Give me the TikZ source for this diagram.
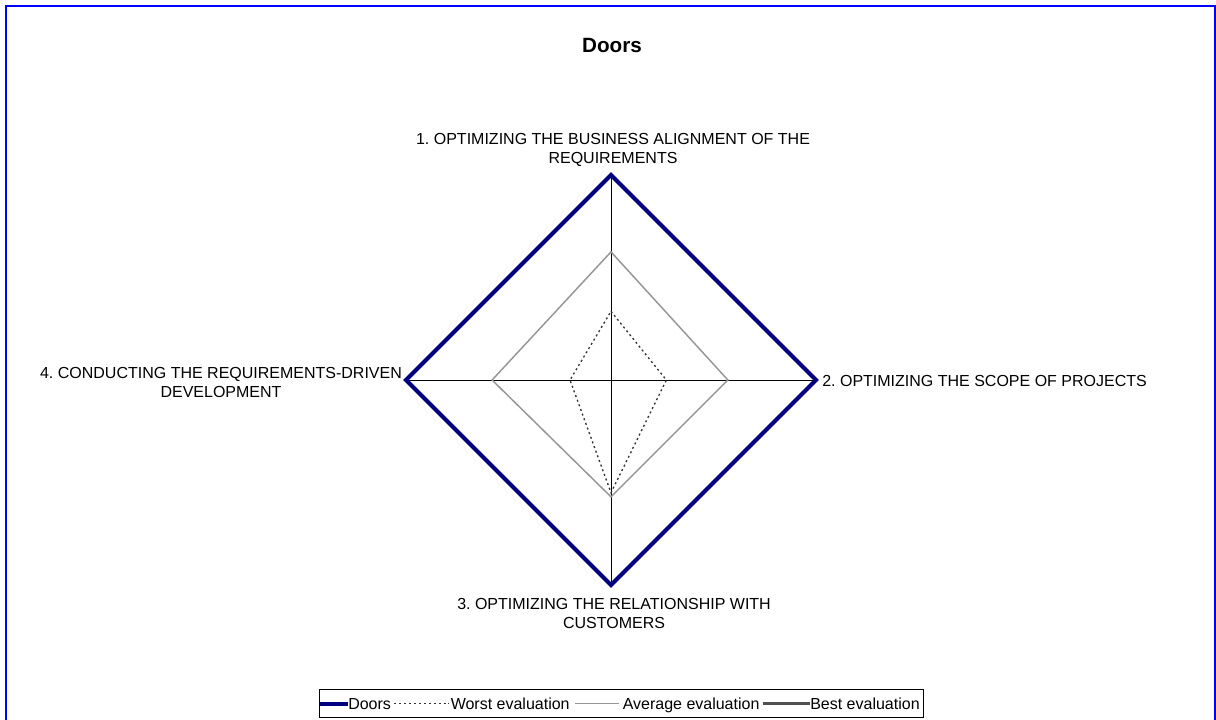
\documentclass[tikz,border=0pt]{standalone}
\usepackage{fontspec}
\setmainfont{Liberation Sans}
\usetikzlibrary{positioning,calc}
\definecolor{doorsblue}{RGB}{0,0,128}
\definecolor{frameblue}{RGB}{0,0,255}
\definecolor{avggray}{RGB}{150,150,150}
\definecolor{worstgray}{RGB}{50,50,50}
\definecolor{bestgray}{RGB}{80,80,80}
\frenchspacing
\begin{document}
\begin{tikzpicture}[x=.75pt, y=-.75pt, line join=miter,
	lbl/.style={font=\fontsize{12}{14.25}\selectfont, align=center, inner sep=0pt},
	legtext/.style={font=\fontsize{12}{14}\selectfont, inner sep=0pt, anchor=west, text height=8.6pt, text depth=0pt},
	axisline/.style={draw=black, line width=.75pt},
	doorsline/.style={draw=doorsblue, line width=3pt},
	worstline/.style={draw=worstgray, line width=1pt, dash pattern=on 1.5pt off 2.2pt},
	avgline/.style={draw=avggray, line width=1.1pt},
	bestline/.style={draw=bestgray, line width=2.2pt}]
	
	\useasboundingbox (0,0) rectangle (1216,719);
	\clip (0,0) rectangle (1216,719);
	
	% frame
	\draw[frameblue, line width=1.5pt] (6,6) rectangle (1215,740);
	
	% title
	\node[font=\bfseries\fontsize{15.5}{18}\selectfont, inner sep=0pt] (title) at (612,45) {Doors};
	
	% axes
	\coordinate (O) at (611,380);
	\coordinate (A1) at (611,175);
	\coordinate (A2) at (816,380);
	\coordinate (A3) at (611,585);
	\coordinate (A4) at (406,380);
	\draw[axisline] (A4) -- (A2);
	\draw[axisline] (A1) -- (A3);
	
	% average evaluation
	\draw[avgline] ($(O)!.625!(A1)$) -- ($(O)!.57!(A2)$) -- ($(O)!.57!(A3)$) -- ($(O)!.58!(A4)$) -- cycle;
	
	% worst evaluation
	\draw[worstline] ($(O)!.335!(A1)$) -- ($(O)!.27!(A2)$) -- ($(O)!.55!(A3)$) -- ($(O)!.2!(A4)$) -- cycle;
	
	% best evaluation and Doors
	\draw[bestline] (A1) -- (A2) -- (A3) -- (A4) -- cycle;
	\draw[doorsline] (A1) -- (A2) -- (A3) -- (A4) -- cycle;
	
	% axis labels
	\node[lbl] (lab1) at (613,150) {1. OPTIMIZING THE BUSINESS ALIGNMENT OF THE\\REQUIREMENTS};
	\node[legtext] (lab2) at (822,381) {2. OPTIMIZING THE SCOPE OF PROJECTS};
	\node[lbl] (lab3) at (614,613) {3. OPTIMIZING THE RELATIONSHIP WITH\\CUSTOMERS};
	\node[lbl] (lab4) at (221,382) {4. CONDUCTING THE REQUIREMENTS-DRIVEN\\DEVELOPMENT};
	
	% legend
	\draw[black, line width=.75pt] (319,689) rectangle (923,717);
	\node[legtext] (legDoors) at (348,703.5) {Doors};
	\node[legtext] (legWorst) at (450.5,703.5) {Worst evaluation};
	\node[legtext] (legAvg) at (622.5,703.5) {Average evaluation};
	\node[legtext] (legBest) at (810,703.5) {Best evaluation};
	\draw[doorsline] (320,703.5) -- (legDoors.west);
	\draw[worstline] (legDoors.east) ++(3,0) -- ($(legWorst.west)+(-2,0)$);
	\draw[avgline] ($(legWorst.east)+(5,0)$) -- ($(legAvg.west)+(-4,0)$);
	\draw[bestline] ($(legAvg.east)+(3,0)$) -- (legBest.west);
	
\end{tikzpicture}
\end{document}
